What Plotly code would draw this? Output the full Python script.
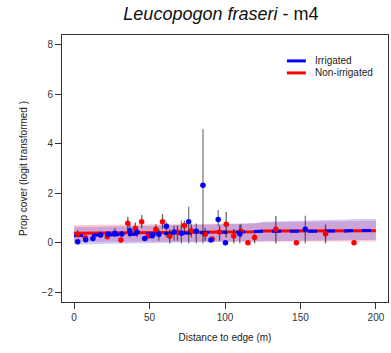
import plotly.graph_objects as go

# ---------------- data ----------------
irr_x  = [2.4, 7.7, 12.5, 17.6, 22.6, 27.0, 31.6, 36.9, 41.7, 46.8, 51.8, 56.2, 61.2, 66.3, 71.1, 75.9, 81.0, 85.4, 90.7, 95.5, 100.3, 109.8, 153.2]
irr_y  = [0.04, 0.12, 0.17, 0.31, 0.35, 0.38, 0.35, 0.48, 0.42, 0.17, 0.28, 0.34, 0.66, 0.43, 0.38, 0.85, 0.46, 2.32, 0.11, 0.94, 0.00, 0.36, 0.54]
irr_lo = [None, None, None, 0.19, None, 0.22, None, 0.22, 0.22, None, None, 0.08, 0.22, 0.08, -0.03, -0.03, -0.03, -0.03, None, 0.69, None, -0.03, -0.03]
irr_hi = [None, None, None, 0.45, None, 0.59, None, 0.75, 0.55, None, None, 0.55, 0.82, 0.69, 0.89, 1.45, 0.78, 4.60, None, 1.32, None, 0.73, 1.09]

non_x  = [2.4, 7.5, 22.0, 31.0, 35.6, 40.6, 44.8, 49.2, 54.2, 58.6, 63.4, 68.5, 73.1, 77.7, 86.9, 91.5, 96.4, 100.8, 105.8, 110.6, 115.2, 119.6, 133.7, 147.3, 166.6, 185.5]
non_y  = [0.33, 0.20, 0.24, 0.11, 0.79, 0.58, 0.85, 0.27, 0.54, 0.85, 0.26, 0.42, 0.69, 0.48, 0.34, 0.15, 0.43, 0.75, 0.27, 0.46, 0.00, 0.21, 0.54, 0.00, 0.36, 0.00]
non_lo = [0.22, None, 0.22, None, 0.55, 0.35, 0.59, None, 0.28, 0.55, -0.03, 0.08, 0.42, 0.22, 0.08, None, 0.08, 0.22, -0.03, 0.22, None, -0.03, -0.03, None, -0.03, None]
non_hi = [0.49, None, 0.42, None, 1.05, 0.82, 1.12, None, 0.75, 1.16, 0.53, 0.69, 0.89, 0.75, 0.59, None, 0.69, 1.24, 0.55, 0.73, None, 0.35, 1.08, None, 0.73, None]

fit_x     = [0, 55, 100, 120, 125, 180, 185, 200]
irr_fit   = [0.28, 0.35, 0.41, 0.43, 0.46, 0.47, 0.49, 0.49]
non_fit   = [0.38, 0.40, 0.42, 0.44, 0.47, 0.47, 0.48, 0.48]
irr_band_lo = [-0.07, 0.00, 0.04, 0.05, 0.06, 0.10, 0.11, 0.11]
irr_band_hi = [0.62, 0.68, 0.75, 0.80, 0.85, 0.94, 0.96, 0.96]
non_band_lo = [0.04, 0.03, 0.02, 0.03, 0.03, 0.05, 0.05, 0.05]
non_band_hi = [0.71, 0.73, 0.75, 0.78, 0.82, 0.88, 0.89, 0.89]

x_ticks = [0, 50, 100, 150, 200]
y_ticks = [-2, 0, 2, 4, 6, 8]
legend_labels = ["Irrigated", "Non-irrigated"]

BLUE = "#0000FF"
RED = "#FF0000"


def err(y, lo, hi):
    plus = [(h - v) if h is not None else 0 for v, h in zip(y, hi)]
    minus = [(v - l) if l is not None else 0 for v, l in zip(y, lo)]
    return plus, minus


fig = go.Figure()

# confidence bands
for bx, blo, bhi, col in [
    (fit_x, non_band_lo, non_band_hi, "rgba(255,0,0,0.2)"),
    (fit_x, irr_band_lo, irr_band_hi, "rgba(0,0,255,0.2)"),
]:
    fig.add_trace(go.Scatter(x=bx + bx[::-1], y=bhi + blo[::-1], fill="toself",
                             fillcolor=col, line=dict(width=0), mode="lines",
                             hoverinfo="skip", showlegend=False))

# fitted lines
fig.add_trace(go.Scatter(x=fit_x, y=non_fit, mode="lines", line=dict(color=RED, width=3),
                         name="Non-irrigated", showlegend=False))
fig.add_trace(go.Scatter(x=fit_x, y=irr_fit, mode="lines",
                         line=dict(color=BLUE, width=3, dash="dash"),
                         name="Irrigated", showlegend=False))

# points with error bars
ip, im = err(irr_y, irr_lo, irr_hi)
npl, nm = err(non_y, non_lo, non_hi)
fig.add_trace(go.Scatter(x=non_x, y=non_y, mode="markers",
                         marker=dict(color=RED, size=5.5),
                         error_y=dict(type="data", array=npl, arrayminus=nm, symmetric=False,
                                      color="rgba(0,0,0,0.6)", thickness=1.3, width=0),
                         showlegend=False))
fig.add_trace(go.Scatter(x=irr_x, y=irr_y, mode="markers",
                         marker=dict(color=BLUE, size=5.5),
                         error_y=dict(type="data", array=ip, arrayminus=im, symmetric=False,
                                      color="rgba(0,0,0,0.5)", thickness=1.3, width=0),
                         showlegend=False))

# manual legend (R-style, compact)
leg_y = [0.903, 0.858]
for lab, col, ly in zip(legend_labels, [BLUE, RED], leg_y):
    fig.add_shape(type="line", xref="paper", yref="paper", x0=0.69, x1=0.748, y0=ly, y1=ly,
                  line=dict(color=col, width=3))
    fig.add_annotation(xref="paper", yref="paper", x=0.77, y=ly, text=lab, showarrow=False,
                       xanchor="left", yanchor="middle",
                       font=dict(size=10, color="#222222"))

axis_common = dict(showline=True, linecolor="#333333", linewidth=1, mirror=True,
                   ticks="outside", ticklen=6, tickcolor="#333333", showgrid=False,
                   zeroline=False, tickfont=dict(size=10, color="#333333"))

fig.update_layout(
    width=391, height=353,
    margin=dict(l=62, r=3, t=35, b=51),
    paper_bgcolor="white", plot_bgcolor="white",
    showlegend=False,
    font=dict(family="Liberation Sans, Arial, sans-serif", color="#222222"),
    title=dict(text="<i>Leucopogon fraseri</i> - m4", x=0.565, xanchor="center",
               y=0.96, yanchor="middle", font=dict(size=18, color="#111111")),
    xaxis=dict(range=[-8, 208], tickvals=x_ticks,
               title=dict(text="Distance to edge (m)", font=dict(size=10), standoff=11),
               **axis_common),
    yaxis=dict(range=[-2.4, 8.4], tickvals=y_ticks,
               title=dict(text="Prop cover (logit transformed )", font=dict(size=10), standoff=12),
               **axis_common),
)

fig.write_html("out.html")
